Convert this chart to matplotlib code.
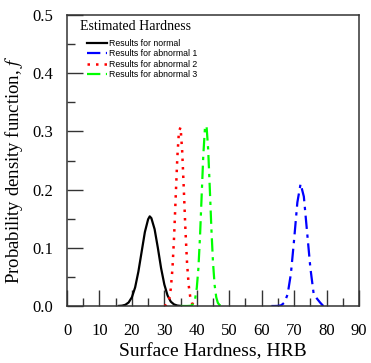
import matplotlib
matplotlib.use('Agg')
import matplotlib.pyplot as plt

# hardness values (HRB) and pdf values
x_normal = [16, 17, 18, 19, 20, 21, 22, 23, 24, 25, 25.5, 26, 27, 28, 29, 30, 31, 32, 33, 34, 35]
f_normal = [0.0002, 0.0006, 0.0021, 0.0061, 0.015, 0.032, 0.059, 0.093, 0.127, 0.149, 0.154,
            0.151, 0.132, 0.100, 0.065, 0.037, 0.018, 0.0074, 0.0027, 0.0008, 0.0002]

x_abn1 = [63, 64, 65, 66, 67, 68, 69, 70, 71, 72, 73, 74, 75, 76, 77, 78, 79]
f_abn1 = [0.0, 0.0, 0.0002, 0.0012, 0.0057, 0.020, 0.055, 0.114, 0.178, 0.210, 0.188,
          0.127, 0.066, 0.022, 0.013, 0.006, 0.0]

x_abn2 = [30, 30.5, 31, 31.5, 32, 32.5, 33, 33.5, 34, 34.5, 35, 35.5, 36, 36.5, 37, 37.5, 38, 38.5, 39]
f_abn2 = [0.0003, 0.0013, 0.0043, 0.0123, 0.030, 0.064, 0.118, 0.187, 0.255, 0.300, 0.307,
          0.266, 0.201, 0.131, 0.074, 0.036, 0.015, 0.0054, 0.0017]

x_abn3 = [35, 36, 37, 38, 38.5, 39, 39.5, 40, 40.5, 41, 41.5, 42, 42.5, 43, 43.5, 44, 44.5,
          45, 45.5, 46, 46.5, 47, 47.5, 48]
f_abn3 = [0.0, 0.0, 0.0, 0.0003, 0.0013, 0.0044, 0.0125, 0.031, 0.065, 0.120, 0.189, 0.258,
          0.304, 0.310, 0.270, 0.204, 0.133, 0.075, 0.036, 0.015, 0.0054, 0.0017, 0.0005, 0.0001]

labels = ['Results for normal', 'Results for abnormal 1',
          'Results for abnormal 2', 'Results for abnormal 3']

plt.rcParams['font.family'] = 'Liberation Serif'
plt.rcParams['mathtext.fontset'] = 'stix'

fig = plt.figure(figsize=(3.71, 3.63), dpi=100)
ax = fig.add_axes([67 / 371, 1 - 306 / 363, 292 / 371, 291 / 363])

ax.plot(x_normal, f_normal, color='black', lw=1.6, label=labels[0])
ax.plot(x_abn1, f_abn1, color='blue', lw=1.6, ls=(0, (6, 2.5, 1.5, 2.5)), label=labels[1])
ax.plot(x_abn2, f_abn2, color='red', lw=1.8, ls=(0, (1, 2.4)), label=labels[2])
ax.plot(x_abn3, f_abn3, color='lime', lw=1.6, ls=(0, (6, 2.5, 1.5, 2.5)), label=labels[3])

ax.set_xlim(0, 90)
ax.set_ylim(0, 0.5)
ax.set_xticks(range(0, 91, 10))
ax.set_xticks(range(5, 90, 10), minor=True)
ax.set_yticks([0.0, 0.1, 0.2, 0.3, 0.4, 0.5])
ax.set_yticks([0.05, 0.15, 0.25, 0.35, 0.45], minor=True)
ax.set_yticklabels(['0.0', '0.1', '0.2', '0.3', '0.4', '0.5'])
ax.tick_params(which='both', direction='in', color='#333333', width=1.0, labelsize=12,
               top=False, right=False)
ax.tick_params(which='major', length=11.5)
ax.tick_params(axis='x', which='major', pad=12)
ax.tick_params(axis='y', which='major', pad=10)
ax.tick_params(which='minor', length=5.8)
for s in ax.spines.values():
    s.set_color('#333333')
    s.set_linewidth(1.1)

ax.set_xlabel('Surface Hardness, HRB', fontsize=14, labelpad=3)
ax.set_ylabel('Probability density function, $f$', fontsize=13.5)
ax.yaxis.set_label_coords(-0.144, 0.47)

ax.text(13 / 292, 1 - 11 / 291, 'Estimated Hardness', transform=ax.transAxes,
        fontsize=10, va='center', ha='left')
leg = ax.legend(loc='upper left', bbox_to_anchor=(20 / 292, 1 - 24 / 291), frameon=False,
                prop={'family': 'Liberation Sans', 'size': 6.3}, handlelength=2.3,
                handletextpad=0.2, labelspacing=0.17, borderpad=0, borderaxespad=0)

fig.savefig('out.png', dpi=100)
